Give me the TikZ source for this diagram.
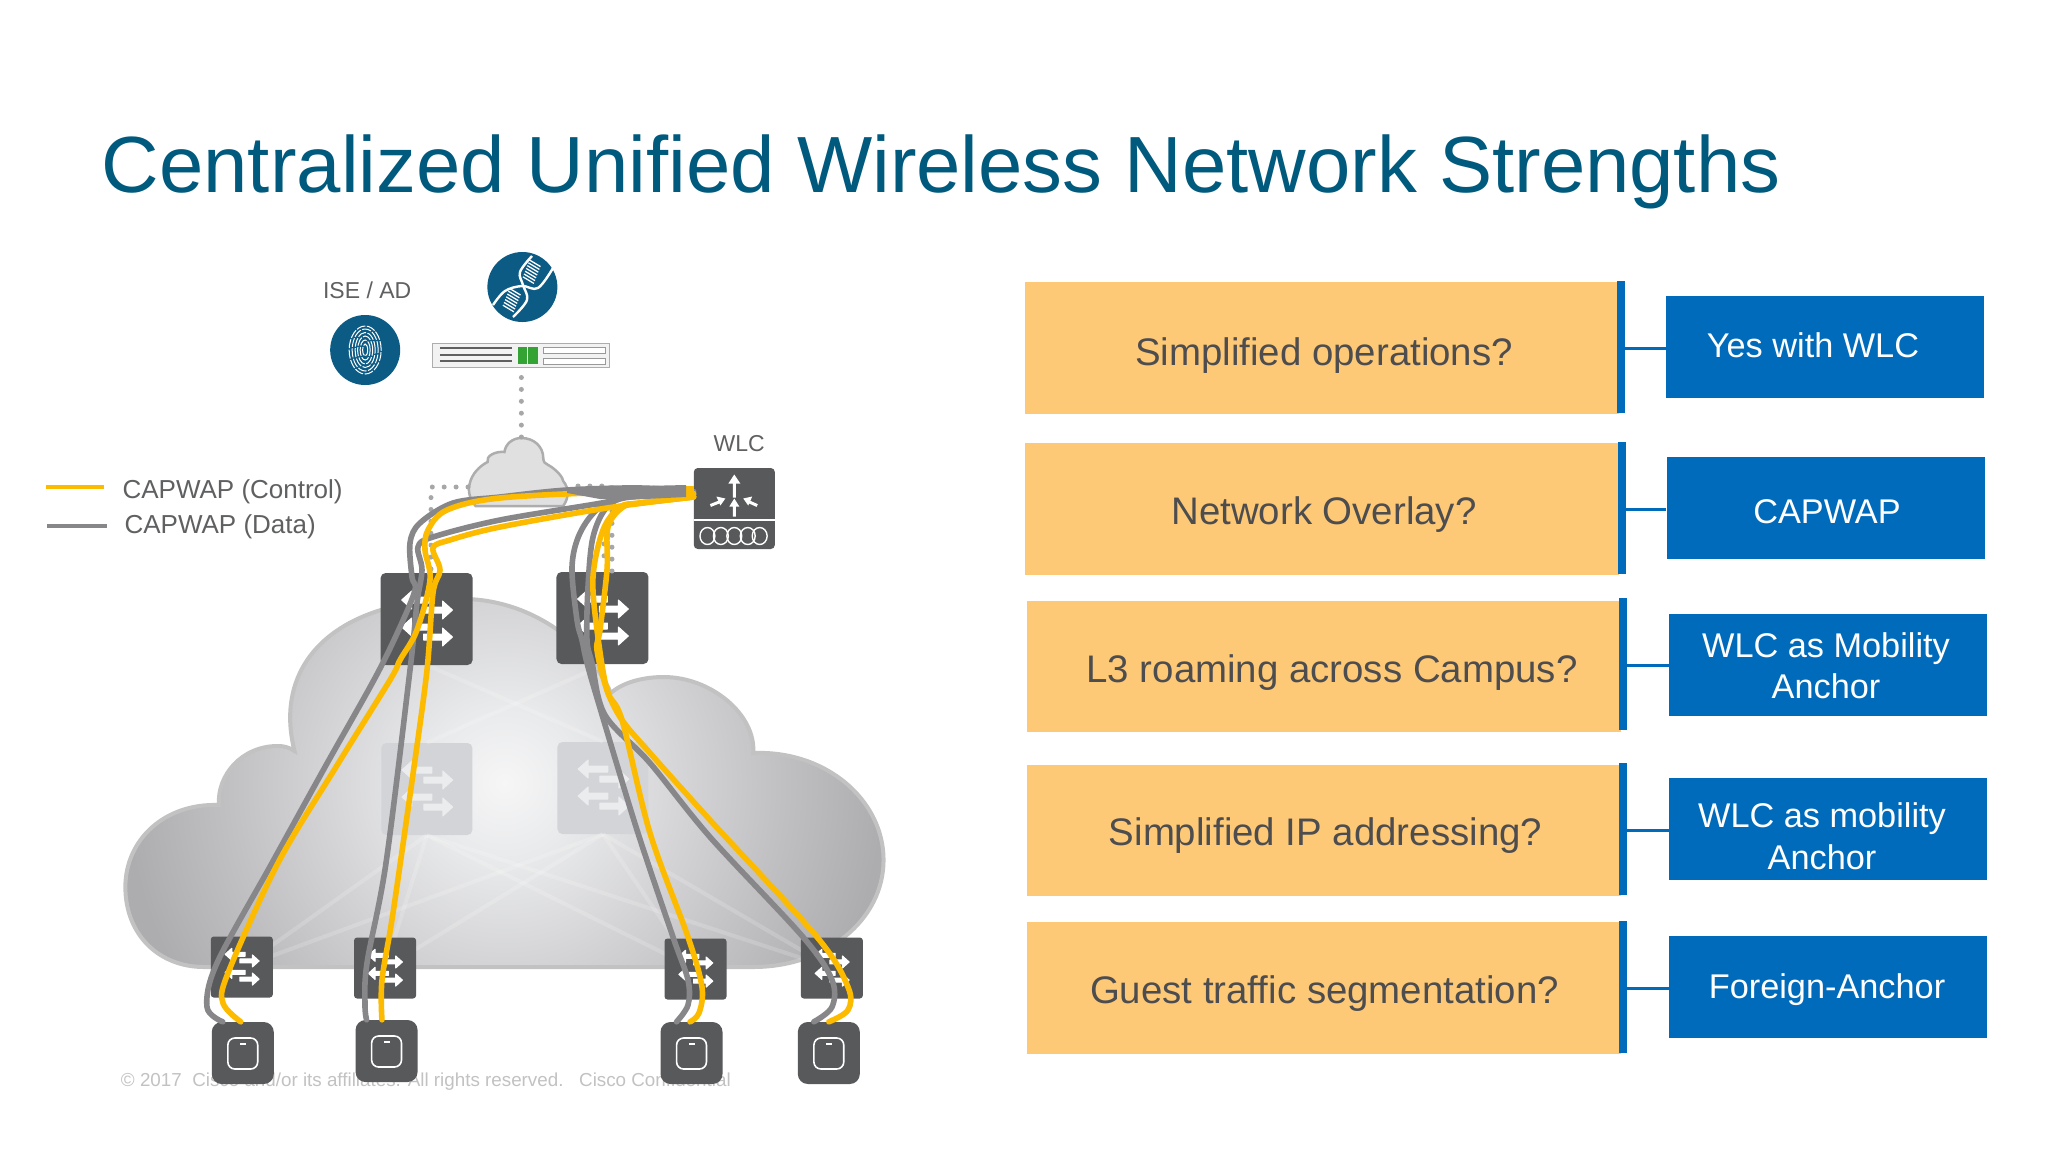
\documentclass[tikz,border=0pt]{standalone}
\usepackage{fontspec}
\setmainfont{Liberation Sans}
\usetikzlibrary{calc}
\definecolor{titleblue}{HTML}{005A7D}
\definecolor{ink}{HTML}{4D4D4F}
\definecolor{labelgrey}{HTML}{5F6062}
\definecolor{orangebox}{HTML}{FDC976}
\definecolor{bluebox}{HTML}{006BBB}
\definecolor{darkbox}{HTML}{58595B}
\definecolor{tealc}{HTML}{0B5B85}
\definecolor{capy}{HTML}{FDBB00}
\definecolor{capg}{HTML}{87878A}
\definecolor{dotg}{HTML}{A6A7A9}
\definecolor{fadebox}{HTML}{D2D4D7}
\definecolor{fadearrow}{HTML}{EBECED}
\definecolor{cga}{HTML}{F6F6F7}
\definecolor{cgb}{HTML}{E9EAEB}
\definecolor{cgc}{HTML}{D3D3D5}
\definecolor{cgd}{HTML}{BFBFC2}
\definecolor{cge}{HTML}{ADADB0}
\pgfdeclareradialshading{cloudsh}{\pgfpoint{0bp}{0bp}}{%
 color(0bp)=(cga);color(5bp)=(cgb);color(12.2bp)=(cgc);
 color(18.7bp)=(cgd);color(25bp)=(cge);color(50bp)=(cge)}
\tikzset{
 x=1pt,y=-1pt,
 left part/.style={x=.995pt},
 fnt/.style={font=\fontsize{#1}{#1}\selectfont},
 txt/.style={inner sep=0pt,text=labelgrey},
 qbox/.style={rectangle,fill=orangebox,inner sep=0pt},
 qbar/.style={rectangle,fill=bluebox,inner sep=0pt},
 abox/.style={rectangle,fill=bluebox,inner sep=0pt},
 qtext/.style={inner sep=0pt,text=ink,font=\fontsize{38.4}{46}\selectfont},
 atext/.style={inner sep=0pt,text=white,align=center,font=\fontsize{34.3}{41.5}\selectfont},
 link/.style={draw=bluebox,line width=3pt},
 devsw/.style={rectangle,rounded corners=5pt,fill=darkbox,inner sep=0pt,minimum width=92pt,minimum height=92pt},
 fadesw/.style={rectangle,rounded corners=5pt,fill=fadebox,inner sep=0pt,minimum width=91pt,minimum height=92pt},
 acsw/.style={rectangle,rounded corners=3pt,fill=darkbox,inner sep=0pt,minimum width=62pt,minimum height=61pt},
 apbox/.style={rectangle,rounded corners=10pt,fill=darkbox,inner sep=0pt,minimum width=62pt,minimum height=62pt},
 capc/.style={draw=capy,line width=5.6pt,line cap=round,line join=round},
 capd/.style={draw=capg,line width=5.6pt,line cap=round,line join=round},
 dotline/.style={draw=dotg,line width=5pt,line cap=round,dash pattern=on 0pt off 11.9pt},
 mesh/.style={draw=white,draw opacity=.17,line width=4pt},
 circ/.style={circle,fill=tealc,minimum size=70pt,inner sep=0pt},
 icon/.style={fill=#1,draw=#1,line width=1pt,line join=round},
}
\newcommand{\swicon}[3]{%
 \begin{scope}[shift={(#1.center)},scale=#2]
  \path[icon=#3] (-25,-19)--(-15,-28)--(-15,-22)--(5,-22)--(5,-16)--(-15,-16)--(-15,-10)--cycle;
  \path[icon=#3] (26,-9)--(16,-18)--(16,-12)--(-3,-12)--(-3,-6)--(16,-6)--(16,0)--cycle;
  \path[icon=#3] (-25,8)--(-15,-1)--(-15,5)--(5,5)--(5,11)--(-15,11)--(-15,17)--cycle;
  \path[icon=#3] (26,18)--(16,9)--(16,15)--(-3,15)--(-3,21)--(16,21)--(16,27)--cycle;
 \end{scope}}
\newcommand{\apicon}[1]{%
 \begin{scope}[shift={(#1.center)}]
  \draw[white,line width=1.6pt,rounded corners=7pt] (-15,-15) rectangle (15,16);
  \fill[white] (-3,-10) rectangle (3,-8);
 \end{scope}}
\newcommand{\cloudpath}{(205,967) .. controls (160,967) and (126,935) .. (126,887)
 .. controls (126,840) and (165,803) .. (220,805)
 .. controls (218,775) and (243,746) .. (279,746)
 .. controls (285,746) and (290,747) .. (296,751)
 .. controls (274,665) and (335,599) .. (465,599)
 .. controls (530,599) and (590,640) .. (614,693)
 .. controls (625,683) and (645,677) .. (667,677)
 .. controls (715,677) and (760,715) .. (757,753)
 .. controls (830,750) and (888,800) .. (888,860)
 .. controls (888,920) and (830,967) .. (757,967) -- cycle}
\begin{document}
\begin{tikzpicture}
\useasboundingbox (0,0) rectangle (2048,1152);
\fill[white] (0,0) rectangle (2048,1152);
% title
\node[inner sep=0pt,anchor=center,text=titleblue,font=\fontsize{79.7}{96}\selectfont] (title) at (941.2,171.5) {Centralized Unified Wireless Network Strengths};
\begin{scope}[left part]
% copyright
\node[inner sep=0pt,text=black!24,font=\fontsize{18.8}{22}\selectfont] (copy) at (428,1082) {© 2017~~Cisco and/or its affiliates. All rights reserved.~~~Cisco Confidential};
% big cloud
\begin{scope}
 \clip \cloudpath;
 \shade[shading=cloudsh] (126,402) rectangle (888,1164);
\end{scope}
\draw[white!76!black,line width=4pt] \cloudpath;
% faded core switches
\node[fadesw] (fs1) at (429,789) {};
\node[fadesw] (fs2) at (606,788) {};
\swicon{fs1}{1}{fadearrow}
\swicon{fs2}{1}{fadearrow}
\coordinate (as1c) at (243,967);
\coordinate (as2c) at (387,968);
\coordinate (as3c) at (699,969);
\coordinate (as4c) at (836,968);
\coordinate (top1) at (429,665);
\coordinate (top2) at (606,665);
% mesh
\draw[mesh] (fs1.south) -- (as1c);
\draw[mesh] (fs1.south) -- (as3c);
\draw[mesh] (fs1.south) -- (as4c);
\draw[mesh] (fs1.south) -- (as2c);
\draw[mesh] (fs2.south) -- (as1c);
\draw[mesh] (fs2.south) -- (as2c);
\draw[mesh] (fs2.south) -- (as3c);
\draw[mesh] (fs2.south) -- (as4c);
\draw[mesh] (top1) -- (fs2.north);
\draw[mesh] (top2) -- (fs1.north);
\node[acsw] (as1) at (as1c) {};
\node[acsw] (as2) at (as2c) {};
\node[acsw] (as3) at (as3c) {};
\node[acsw] (as4) at (as4c) {};
\swicon{as1}{.67}{white}
\swicon{as2}{.67}{white}
\swicon{as3}{.67}{white}
\swicon{as4}{.67}{white}
\node[apbox] (ap1) at (244,1053) {};
\node[apbox] (ap2) at (388.5,1051) {};
\node[apbox] (ap3) at (695,1053) {};
\node[apbox] (ap4) at (833,1053) {};
\apicon{ap1}
\apicon{ap2}
\apicon{ap3}
\apicon{ap4}
% small cloud
\path[fill=white!88!black,draw=white!68!black,line width=2.5pt] (478,506)
 .. controls (472,500) and (470,490) .. (472,484)
 .. controls (474,474) and (482,466) .. (490,462)
 .. controls (488,456) and (498,451) .. (507,452)
 .. controls (508,444) and (515,438) .. (524,438)
 .. controls (537,438) and (546,447) .. (546,458)
 .. controls (546,462) and (548,464) .. (551,465)
 .. controls (560,470) and (566,478) .. (566,481)
 .. controls (572,488) and (572,498) .. (566,506) -- cycle;
\coordinate (cloudtop) at (524,437);
% WLC
\node[rectangle,rounded corners=4pt,fill=darkbox,inner sep=0pt,minimum width=81pt,minimum height=81pt] (wlc) at (738,508.5) {};
\begin{scope}[shift={(wlc.center)}]
 \draw[white,line width=1.8pt] (-40.5,11.5) -- (40.5,11.5);
 \foreach \q in {-27,-13.5,0,13.5,25.5}{\draw[white,line width=1.4pt] (\q,27.5) ellipse (7.5 and 8.5);}
 \fill[white] (0,-34)--(-6,-25)--(-1.5,-25)--(-1.5,-11)--(1.5,-11)--(1.5,-25)--(6,-25)--cycle;
 \fill[white] (0,-10)--(-5,-2)--(-1.5,-2)--(-1.5,8)--(1.5,8)--(1.5,-2)--(5,-2)--cycle;
 \draw[white,line width=3pt] (-24,-3) -- (-14,-7);
 \fill[white] (-9,-10)--(-18,-12)--(-14,-3)--cycle;
 \draw[white,line width=3pt] (23,-3) -- (14,-7);
 \fill[white] (9,-10)--(18,-12)--(14,-3)--cycle;
\end{scope}
\node[rectangle,draw=white!68!black,fill=white!95!black,line width=1pt,inner sep=0pt,minimum width=177pt,minimum height=24pt] (srv) at (524,355) {};
\node[devsw] (sw1) at (428.75,619) {};
\node[devsw] (sw2) at (605.5,618) {};
\end{scope}
% dotted
\coordinate (cloudl) at (468,487);
\coordinate (cloudr) at (578,486);
\coordinate (bendl) at (431,487);
\coordinate (bendr) at (612,486);
\coordinate (d2a) at (604,532);
\coordinate (d2b) at (604,558);
\draw[dotline] ([yshift=-10pt]srv.south) -- (cloudtop);
\draw[dotline] (cloudl) -- (bendl) -- (sw1.north -| bendl);
\draw[dotline] (cloudr) -- (bendr) -- (sw2.north -| bendr);
\draw[dotline] (d2a) -- (d2b);
\begin{scope}[left part]
% core switches
\swicon{sw1}{1}{white}
\swicon{sw2}{1}{white}
% server
\begin{scope}[shift={(srv.center)}]
 \foreach \q in {-7,0,6}{\draw[labelgrey,line width=1.4pt] (-82,\q) -- (-9,\q);}
 \fill[green!55!black!80!white] (-3,-8) rectangle (6,9);
 \fill[green!55!black!80!white] (7,-8) rectangle (17,9);
 \draw[white!60!black,fill=white,line width=1pt] (22,-8) rectangle (85,-2);
 \draw[white!60!black,fill=white,line width=1pt] (22,3) rectangle (85,9);
\end{scope}
% circles
\node[circ] (fp) at (367,350) {};
\begin{scope}[shift={(fp.center)},white,line width=1pt]
 \foreach \rx/\ry in {16/24,13/21,10/17.5,7.5/14,5/10,2.5/6}{\draw[dash pattern=on 9pt off 1.5pt] (0,0) ellipse (\rx pt and \ry pt);}
\end{scope}
\node[circ] (dna) at (525,287) {};
% labels
\node[txt,fnt=23] (ise) at (369,290) {ISE / AD};
\node[txt,fnt=23] (wlct) at (743,444) {WLC};
\coordinate (ly1) at (46,487);
\coordinate (ly2) at (105,487);
\coordinate (lg1) at (47,526);
\coordinate (lg2) at (108,526);
\draw[draw=capy,line width=4.6pt] (ly1) -- (ly2);
\draw[draw=capg,line width=4.6pt] (lg1) -- (lg2);
\node[txt,fnt=26,anchor=west] (lc) at (123,492) {CAPWAP (Control)};
\node[txt,fnt=26,anchor=west] (ld) at (125,527) {CAPWAP (Data)};
\end{scope}
% dna helix
\begin{scope}[white,line width=2.4pt]
 \draw plot[smooth,tension=.6] coordinates {(493,305) (505,291) (522,286) (538,288) (553,268)};
 \draw plot[smooth,tension=.6] coordinates {(532,256) (520,272) (523,285) (527,300) (513,317)};
 \foreach \q in {0,1,...,6}{\draw[line width=1.3pt] ({535-\q*1.1-5.5},{263.3+\q*2.8-3.3}) -- ({535-\q*1.1+5.5},{263.3+\q*2.8+3.3});}
 \foreach \q in {0,1,...,6}{\draw[line width=1.3pt] ({515-\q*1.1-5.5},{291.7+\q*2.8-3.3}) -- ({515-\q*1.1+5.5},{291.7+\q*2.8+3.3});}
\end{scope}
% data
\draw[capd] plot[smooth,tension=.55] coordinates {([yshift=17pt]wlc.west) (640,488) (567,490) (500,497) (453,503) (420,523) (410,543) (412,577) (415,590) (400,627) (375,678) (325,767) (272,863) (217,963) (207,1007) ([xshift=-20pt]ap1.north)};
\draw[capd] plot[smooth,tension=.55] coordinates {([yshift=14pt]wlc.west) (630,495) (607,502) (500,520) (433,537) (418,547) (422,570) (417,603) (410,670) (386,863) (367,963) (365,1005) ([xshift=-20pt]ap2.north)};
\draw[capd] plot[smooth,tension=.55] coordinates {([yshift=14pt]wlc.west) (630,496) (600,507) (580,533) (572,567) (577,620) (582,640) (587,663) (600,708) (637,830) (673,937) (688,980) (688,1005) ([xshift=-15pt]ap3.north)};
\draw[capd] plot[smooth,tension=.55] coordinates {([yshift=14pt]wlc.west) (630,497) (607,507) (593,537) (588,587) (587,640) (592,663) (605,715) (650,763) (710,837) (803,937) (832,980) (832,1007) ([xshift=-15pt]ap4.north)};
% control
\draw[capc] plot[smooth,tension=.55] coordinates {([yshift=15pt]wlc.west) (620,492) (500,498) (447,510) (428,530) (425,550) (430,580) (417,630) (400,660) (390,680) (336,767) (278,863) (228,973) (223,1003) ([xshift=-2pt]ap1.north)};
\draw[capc] plot[smooth,tension=.55] coordinates {([yshift=11.5pt]wlc.west) (607,508) (500,527) (450,540) (433,548) (440,570) (433,593) (427,670) (414,767) (393,913) (382,980) ([xshift=-4.6pt]ap2.north)};
\draw[capc] plot[smooth,tension=.55] coordinates {([yshift=11.5pt]wlc.west) (640,503) (620,507) (603,530) (593,577) (597,630) (607,690) (622,720) (650,833) (688,937) (702,987) (699,1013) ([xshift=-1.5pt]ap3.north)};
\draw[capc] plot[smooth,tension=.55] coordinates {([yshift=11.5pt]wlc.west) (640,503) (623,507) (608,527) (607,570) (600,630) (597,650) (607,690) (622,720) (650,753) (710,820) (817,937) (848,987) (848,1010) ([xshift=0pt]ap4.north)};
% bundle
\fill[capy] (686,486) rectangle ([yshift=11.5pt]wlc.west);
\fill[capg] (686,485) -- (686,497) -- (625,500) -- (600,499) -- (567,493) -- (567,488) -- (620,486.5) -- cycle;
% question boxes
\node[qbox,minimum width=594pt,minimum height=132pt] (q1) at (1322,348) {};
\node[qbox,minimum width=594pt,minimum height=132pt] (q2) at (1322,509) {};
\node[qbox,minimum width=594pt,minimum height=131pt] (q3) at (1324,666.5) {};
\node[qbox,minimum width=594pt,minimum height=131pt] (q4) at (1324,830.5) {};
\node[qbox,minimum width=594pt,minimum height=132pt] (q5) at (1324,988) {};
\node[qbar,minimum width=8pt,minimum height=132pt] (b1) at (1621,347) {};
\node[qbar,minimum width=8pt,minimum height=132pt] (b2) at (1621.5,508) {};
\node[qbar,minimum width=8pt,minimum height=132pt] (b3) at (1623,664) {};
\node[qbar,minimum width=8pt,minimum height=132pt] (b4) at (1623,829) {};
\node[qbar,minimum width=8pt,minimum height=132pt] (b5) at (1623,987) {};
\node[abox,minimum width=318pt,minimum height=102pt] (a1) at (1825,347) {};
\node[abox,minimum width=318pt,minimum height=102pt] (a2) at (1825.5,508) {};
\node[abox,minimum width=318pt,minimum height=102pt] (a3) at (1828,665) {};
\node[abox,minimum width=318pt,minimum height=102pt] (a4) at (1828,829) {};
\node[abox,minimum width=318pt,minimum height=102pt] (a5) at (1828,987) {};
\foreach \k in {1,...,5}{\draw[link] ([yshift=-1.5pt]b\k.east) -- ([yshift=-1.5pt]b\k.east -| a\k.west);}
\node[qtext] (t1) at (1324,355.5) {Simplified operations?};
\node[qtext] (t2) at (1324,514.5) {Network Overlay?};
\node[qtext] (t3) at (1332,672.5) {L3 roaming across Campus?};
\node[qtext] (t4) at (1325.5,836) {Simplified IP addressing?};
\node[qtext] (t5) at (1324.5,994) {Guest traffic segmentation?};
\node[atext] (r1) at (1813,345) {Yes with WLC};
\node[atext] (r2) at (1827,512) {CAPWAP};
\node[atext] (r3) at (1826,665.5) {WLC as Mobility\\Anchor};
\node[atext] (r4) at (1822,836) {WLC as mobility\\Anchor};
\node[atext] (r5) at (1827,990) {Foreign-Anchor};
\end{tikzpicture}
\end{document}
